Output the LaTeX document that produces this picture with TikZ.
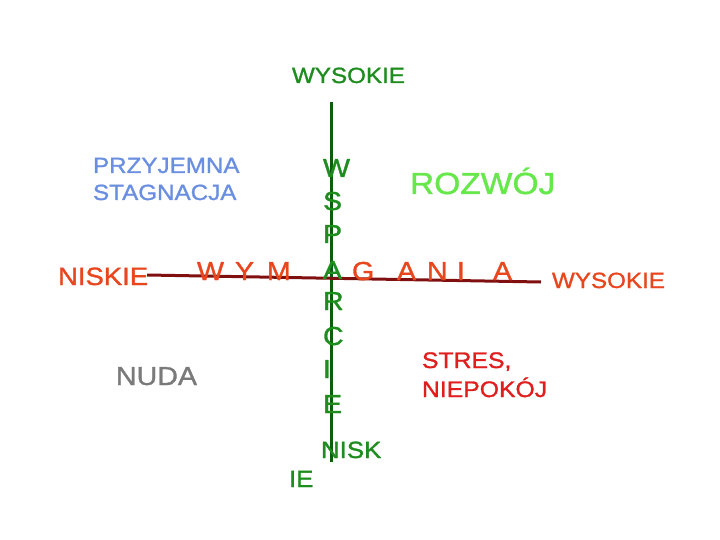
\documentclass[tikz,border=0pt]{standalone}
\usepackage{fontspec}
\setmainfont{Liberation Sans}[FakeStretch=1.1,FakeBold=1.2]
\definecolor{axgreen}{HTML}{0B5E0B}
\definecolor{txgreen}{HTML}{1E8C1E}
\definecolor{axred}{HTML}{801010}
\definecolor{orng}{HTML}{E8461E}
\definecolor{lgreen}{HTML}{66E84A}
\definecolor{cblue}{HTML}{6B8FE0}
\definecolor{ngray}{HTML}{7A7A7A}
\definecolor{sred}{HTML}{E01E1E}
\newcommand{\fs}[1]{\fontsize{#1}{#1}\selectfont}
\begin{document}
\begin{tikzpicture}[x=1pt,y=-1pt,
  lbl/.style={inner sep=0pt,outer sep=0pt,anchor=base west},
  axis/.style={line width=3pt}]
\useasboundingbox[fill=white] (0,0) rectangle (720,540);
% axes
\coordinate (vtop) at (331,102);
\coordinate (vbot) at (331,462);
\coordinate (hleft) at (147,275);
\coordinate (hright) at (541,282);
\draw[axis,axgreen] (vtop) -- (vbot);
\draw[axis,axred] (hleft) -- (hright);
% labels
\node[lbl,txgreen] (wysTop) at (292,83) {\fs{22}WYSOKIE};
\node[lbl,orng] (wysRight) at (552,288) {\fs{22}WYSOKIE};
\node[lbl,orng] (niskLeft) at (58,285) {\fs{25}NISKIE};
\node[lbl,txgreen] (niskBot1) at (321,458) {\fs{23.5}NISK};
\node[lbl,txgreen] (niskBot2) at (289,487) {\fs{23.5}IE};
\node[lbl,lgreen] (rozwoj) at (410,194) {\fs{30.5}ROZWÓJ};
\node[lbl,cblue] (przy) at (93,173) {\fs{22}PRZYJEMNA};
\node[lbl,cblue] (stag) at (93,200) {\fs{22}STAGNACJA};
\node[lbl,ngray] (nuda) at (116,385) {\fs{26}NUDA};
\node[lbl,sred] (stres) at (422,368) {\fs{22.5}STRES,};
\node[lbl,sred] (niep) at (422,397) {\fs{22.5}NIEPOKÓJ};
% vertical WSPARCIE
\foreach \l/\y/\n in {W/177/1,S/210/2,P/243/3,A/279/4,R/310/5,C/345/6,I/378/7,E/413/8}
  \node[lbl,txgreen] (wsp\n) at (323,\y) {\fs{26}\l};
% horizontal WYMAGANIA
\foreach \l/\x/\n in {W/197/1,Y/235/2,M/267/3,G/352/4,A/397/5,N/427/6,I/457/7,A/493/8}
  \node[lbl,orng] (wym\n) at (\x,280) {\fs{26}\l};
\end{tikzpicture}
\end{document}
